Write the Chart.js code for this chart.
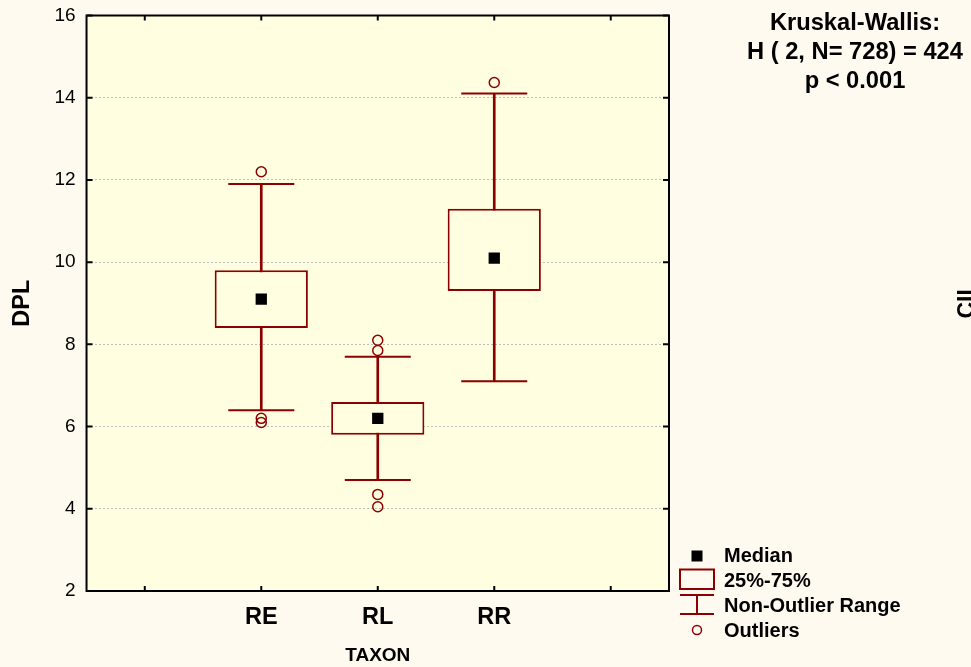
<!DOCTYPE html>
<html>
<head>
<meta charset="utf-8">
<script src="https://cdn.jsdelivr.net/npm/chart.js@4/dist/chart.umd.min.js"></script>
<style>
html,body{margin:0;padding:0;background:#FFFAF0;}
#wrap{width:971px;height:667px;position:relative;}
</style>
</head>
<body>
<div id="wrap"><canvas id="c" width="971" height="667"></canvas></div>
<script>
// ---- data ----
const categories = ['', 'RE', 'RL', 'RR', ' '];
const taxa = ['RE', 'RL', 'RR'];
const medians = [9.1, 6.2, 10.1];
const q1 = [8.4, 5.8, 9.3];
const q3 = [9.8, 6.6, 11.3];
const whiskerLow = [6.4, 4.7, 7.1];
const whiskerHigh = [11.9, 7.7, 14.1];
const outlierTaxa = ['RE', 'RE', 'RE', 'RL', 'RL', 'RL', 'RL', 'RR'];
const outlierValues = [12.2, 6.2, 6.1, 8.1, 7.85, 4.35, 4.05, 14.37];
const yMin = 2, yMax = 16, yStep = 2;
const xTitle = 'TAXON';
const yTitle = 'DPL';
const statLines = ['Kruskal-Wallis:', 'H ( 2, N= 728) = 424', 'p < 0.001'];
const legendLabels = ['Median', '25%-75%', 'Non-Outlier Range', 'Outliers'];
const sideLabel = 'CIL';

// ---- styles ----
const FONT = '"Liberation Sans", Arial, sans-serif';
const PAGE_BG = '#FFFAF0';
const PLOT_BG = '#FFFEE0';
const DARK_RED = '#8B0000';

const boxData = categories.map(c => {
  const i = taxa.indexOf(c);
  return i < 0 ? null : [q1[i], q3[i]];
});
const rangeData = categories.map(c => {
  const i = taxa.indexOf(c);
  return i < 0 ? null : [whiskerLow[i], whiskerHigh[i]];
});
const capData = taxa.map((t, i) => ({x: t, y: whiskerLow[i]}))
  .concat(taxa.map((t, i) => ({x: t, y: whiskerHigh[i]})));
const medianData = taxa.map((t, i) => ({x: t, y: medians[i]}));
const outlierData = outlierTaxa.map((t, i) => ({x: t, y: outlierValues[i]}));

const decor = {
  id: 'decor',
  beforeDraw(chart) {
    const {ctx, chartArea: a} = chart;
    ctx.save();
    ctx.fillStyle = PAGE_BG;
    ctx.fillRect(0, 0, chart.width, chart.height);
    ctx.fillStyle = PLOT_BG;
    ctx.fillRect(a.left, a.top, a.right - a.left, a.bottom - a.top);
    ctx.restore();
  },
  afterDraw(chart) {
    const {ctx, chartArea: a, scales} = chart;
    ctx.save();
    // frame
    ctx.strokeStyle = '#000';
    ctx.lineWidth = 2;
    ctx.strokeRect(a.left, a.top, a.right - a.left, a.bottom - a.top);
    // inner ticks
    ctx.beginPath();
    scales.y.ticks.forEach(t => {
      const y = scales.y.getPixelForValue(t.value);
      ctx.moveTo(a.left, y); ctx.lineTo(a.left + 6, y);
      ctx.moveTo(a.right, y); ctx.lineTo(a.right - 6, y);
    });
    categories.forEach((c, i) => {
      const x = scales.x.getPixelForValue(i);
      ctx.moveTo(x, a.top); ctx.lineTo(x, a.top + 5);
      ctx.moveTo(x, a.bottom); ctx.lineTo(x, a.bottom - 5);
    });
    ctx.stroke();

    // stats text
    ctx.fillStyle = '#000';
    ctx.font = 'bold 23.7px ' + FONT;
    ctx.textAlign = 'center';
    ctx.textBaseline = 'alphabetic';
    statLines.forEach((s, i) => ctx.fillText(s, 855, 30 + i * 29));

    // legend
    const lx = 697;
    const ys = [556, 579, 604.5, 630];
    ctx.fillStyle = '#000';
    ctx.fillRect(lx - 5.5, ys[0] - 5.5, 11, 11);
    ctx.strokeStyle = DARK_RED;
    ctx.lineWidth = 2;
    ctx.strokeRect(680, 569.5, 34, 19.5);
    ctx.beginPath();
    ctx.moveTo(680, 595); ctx.lineTo(714, 595);
    ctx.moveTo(680, 614); ctx.lineTo(714, 614);
    ctx.moveTo(lx, 595); ctx.lineTo(lx, 614);
    ctx.stroke();
    ctx.lineWidth = 1.5;
    ctx.beginPath();
    ctx.arc(lx, ys[3], 4.5, 0, Math.PI * 2);
    ctx.stroke();
    ctx.fillStyle = '#000';
    ctx.font = 'bold 20px ' + FONT;
    ctx.textAlign = 'left';
    const baselines = [562, 587, 612, 637];
    legendLabels.forEach((s, i) => ctx.fillText(s, 724, baselines[i]));

    // partially visible side label
    ctx.save();
    ctx.translate(974, 300);
    ctx.rotate(-Math.PI / 2);
    ctx.font = 'bold 23px ' + FONT;
    ctx.textAlign = 'center';
    ctx.textBaseline = 'alphabetic';
    ctx.fillText(sideLabel, 0, 0);
    ctx.restore();

    ctx.restore();
  }
};

new Chart(document.getElementById('c'), {
  type: 'bar',
  data: {
    labels: categories,
    datasets: [
      {type: 'line', label: 'Median', data: medianData, showLine: false,
       pointStyle: 'rect', pointRadius: 8, pointBackgroundColor: '#000',
       pointBorderWidth: 0, order: 0},
      {type: 'line', label: 'Outliers', data: outlierData, showLine: false,
       pointStyle: 'circle', pointRadius: 5, pointBorderColor: DARK_RED,
       pointBackgroundColor: 'rgba(0,0,0,0)', pointBorderWidth: 1.5, order: 0},
      {type: 'line', label: 'Caps', data: capData, showLine: false,
       pointStyle: 'line', pointRadius: 33, pointBorderColor: DARK_RED,
       pointBorderWidth: 2, order: 1},
      {type: 'bar', label: '25%-75%', data: boxData, backgroundColor: PLOT_BG,
       borderColor: DARK_RED, borderWidth: 2, borderSkipped: false,
       barPercentage: 0.8, categoryPercentage: 1, grouped: false, order: 2},
      {type: 'bar', label: 'Non-Outlier Range', data: rangeData,
       backgroundColor: DARK_RED, barThickness: 2, grouped: false, order: 3}
    ]
  },
  options: {
    responsive: false,
    animation: false,
    events: [],
    devicePixelRatio: 1,
    layout: {autoPadding: false, padding: {left: 0, right: 302, top: 15.5, bottom: 0}},
    plugins: {legend: {display: false}, tooltip: {enabled: false}, title: {display: false}},
    scales: {
      x: {
        offset: true,
        grid: {display: false, drawTicks: false},
        border: {display: false},
        ticks: {color: '#000', font: {family: FONT, size: 23.5, weight: 'bold'},
                padding: 12, autoSkip: false, maxRotation: 0},
        title: {display: true, text: xTitle, color: '#000',
                font: {family: FONT, size: 19, weight: 'bold'},
                padding: {top: 1, bottom: 0}}
      },
      y: {
        min: yMin, max: yMax,
        ticks: {stepSize: yStep, color: '#000',
                font: {family: FONT, size: 19, lineHeight: 0.4}, padding: 11},
        grid: {color: '#BDBDBD', lineWidth: 1, drawTicks: false},
        border: {display: false, dash: [2, 2]},
        title: {display: true, text: yTitle, color: '#000',
                font: {family: FONT, size: 23.5, weight: 'bold'},
                padding: {top: 8.4, bottom: 6.8}}
      }
    }
  },
  plugins: [decor]
});
</script>
</body>
</html>
